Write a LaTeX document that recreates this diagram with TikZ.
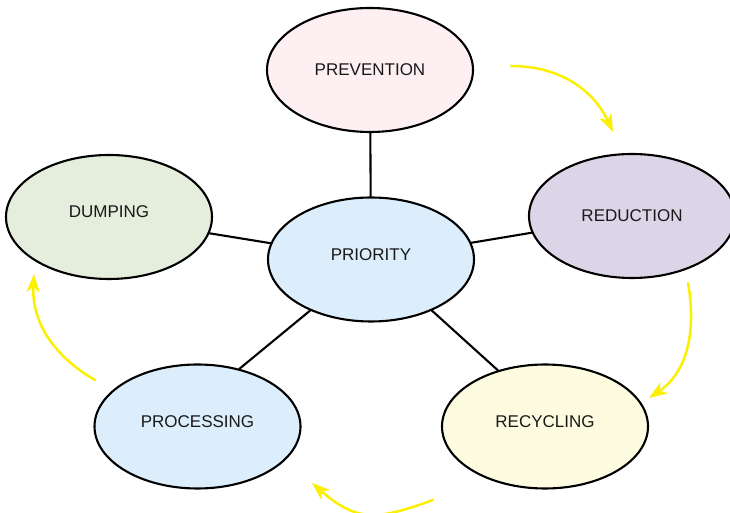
\documentclass[tikz,border=0pt]{standalone}
\usepackage{fontspec}
\setmainfont{Liberation Sans}
\usetikzlibrary{shapes.geometric,arrows.meta}
\definecolor{preventfill}{RGB}{253,239,242}
\definecolor{reducefill}{RGB}{220,213,232}
\definecolor{dumpfill}{RGB}{229,237,221}
\definecolor{priofill}{RGB}{220,238,251}
\definecolor{recyclefill}{RGB}{253,252,224}
\definecolor{cycleyellow}{RGB}{250,240,0}
\begin{document}
\begin{tikzpicture}[x=1pt, y=1pt, line join=round, line cap=round,
 font=\fontsize{17}{20}\selectfont, text=black!90,
 topic/.style={ellipse, draw, line width=2.1pt, minimum width=206pt, minimum height=124pt, inner sep=0pt},
 upper/.style={text depth=10pt},
 cycle/.style={cycleyellow, line width=2.5pt, -{Stealth[length=18pt,width=13pt,inset=5pt]}}]
 \useasboundingbox (0,0) rectangle (730,513);
 \node[topic, fill=preventfill] (prevention) at (370,443) {PREVENTION};
 \node[topic, fill=reducefill] (reduction) at (632,297) {REDUCTION};
 \node[topic, upper, fill=dumpfill] (dumping) at (109,296) {DUMPING};
 \node[topic, upper, fill=priofill] (priority) at (371,253.5) {PRIORITY};
 \node[topic, upper, fill=priofill] (processing) at (197.5,86.5) {PROCESSING};
 \node[topic, upper, fill=recyclefill] (recycling) at (545,86.5) {RECYCLING};
 \draw[line width=2.1pt] (prevention) -- (priority) (dumping) -- (priority) (reduction) -- (priority)
 (priority.220) -- (processing.54) (priority.320) -- (recycling.130);
 % cycle arrows
 \coordinate (a1) at (511,447); \coordinate (b1) at (613,381);
 \coordinate (a2) at (688,230); \coordinate (b2) at (649,115);
 \coordinate (a3) at (433,13); \coordinate (b3) at (312,30);
 \coordinate (a4) at (95,133); \coordinate (b4) at (34,239);
 \draw[cycle] (a1) to[out=0,in=115] (b1);
 \draw[cycle] (a2) to[out=-80,in=34] (b2);
 \draw[cycle] (a3) to[out=200,in=-41,looseness=1.25] (b3);
 \draw[cycle] (a4) to[out=150,in=-93] (b4);
\end{tikzpicture}
\end{document}
